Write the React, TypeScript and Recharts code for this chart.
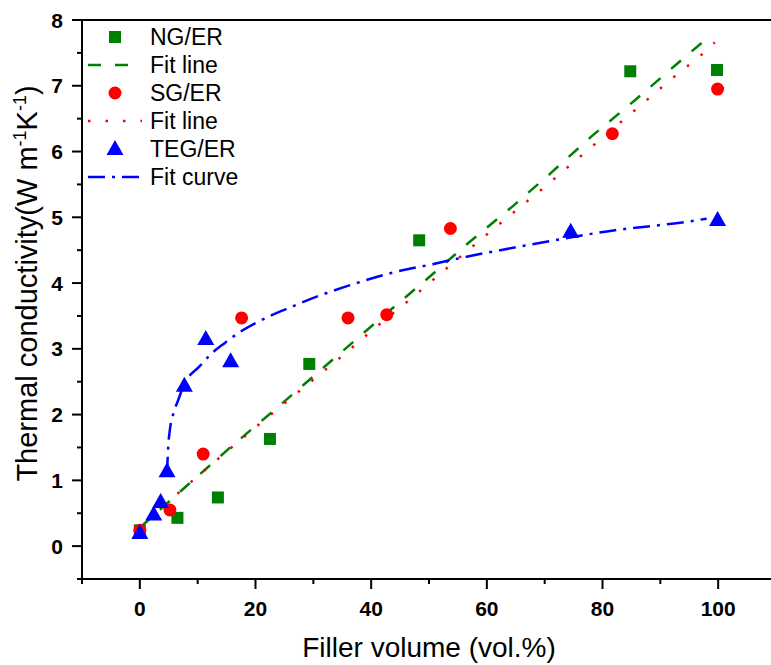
import React from "react";
import { ComposedChart, Scatter, Line, XAxis, YAxis, ReferenceLine } from "recharts";

// measured points
const ngX = [0, 6.5, 13.5, 22.5, 29.3, 48.3, 84.8, 99.8];
const ngY = [0.24, 0.43, 0.74, 1.63, 2.77, 4.65, 7.22, 7.24];

const sgX = [0, 5.2, 10.95, 17.6, 36.0, 42.7, 53.7, 81.7, 99.9];
const sgY = [0.24, 0.55, 1.4, 3.47, 3.47, 3.52, 4.83, 6.27, 6.95];

const tegX = [0, 2.4, 3.6, 4.7, 7.7, 11.4, 15.7, 74.5, 99.9];
const tegY = [0.2, 0.48, 0.67, 1.14, 2.44, 3.15, 2.81, 4.78, 4.96];

// fit lines
const ngFitX = [0, 8.4, 15.9, 23.4, 34.6, 42.1, 49.5, 56.8, 64.5, 70.9, 78.1, 85.6, 93.1, 97.8];
const ngFitY = [0.28, 0.94, 1.52, 2.08, 2.93, 3.5, 4.05, 4.61, 5.17, 5.66, 6.23, 6.78, 7.35, 7.7];

const sgFitX = [0, 6.8, 13.7, 20.6, 27.6, 33.9, 40.7, 47.4, 54.2, 61.1, 69.7, 78.9, 87.9, 92.3, 97.1, 99.4];
const sgFitY = [0.24, 0.82, 1.34, 1.85, 2.36, 2.81, 3.32, 3.8, 4.31, 4.82, 5.44, 6.13, 6.8, 7.13, 7.47, 7.66];

const tegFitX = [4.7, 4.9, 5.2, 5.9, 6.8, 7.5, 10.4, 12.3, 14.7, 17.4, 20.2, 23.0, 26.0, 31.1, 37.5, 43.3, 50.2, 56.5, 62.3, 68.6, 76.1, 81.9, 88.8, 95.2, 98.0];
const tegFitY = [1.1, 1.5, 1.77, 2.04, 2.26, 2.43, 2.74, 2.92, 3.09, 3.26, 3.4, 3.52, 3.63, 3.81, 4.0, 4.15, 4.28, 4.4, 4.5, 4.6, 4.72, 4.8, 4.87, 4.94, 4.98];

const xTicks = [-10, 0, 10, 20, 30, 40, 50, 60, 70, 80, 90, 100, 110];
const yTicks = [-0.5, 0, 0.5, 1, 1.5, 2, 2.5, 3, 3.5, 4, 4.5, 5, 5.5, 6, 6.5, 7, 7.5, 8];

const legendLabels = ["NG/ER", "Fit line", "SG/ER", "Fit line", "TEG/ER", "Fit curve"];

const toPoints = (xs: number[], ys: number[]) => xs.map((x, i) => ({ x, y: ys[i] }));

const GREEN = "#008000";
const RED = "#ff0000";
const BLUE = "#0000ff";
const FONT = "'Liberation Sans', Arial, sans-serif";

const TICK_SIZE = 10;
const TICK_MARGIN_Y = 9;
const TICK_MARGIN_X = 12;

const Square = (p: any) => <rect x={p.cx - 6} y={p.cy - 6} width={12} height={12} fill={GREEN} />;
const Dot = (p: any) => <circle cx={p.cx} cy={p.cy} r={6.5} fill={RED} />;
const Tri = (p: any) => (
  <polygon points={`${p.cx},${p.cy - 9} ${p.cx - 8.5},${p.cy + 6} ${p.cx + 8.5},${p.cy + 6}`} fill={BLUE} />
);

const YTick = (props: any) => {
  const { x, y, payload } = props;
  const major = Number.isInteger(payload.value);
  const ax = x + TICK_MARGIN_Y + TICK_SIZE;
  return (
    <g>
      <line x1={ax} x2={ax - (major ? TICK_SIZE : 5)} y1={y} y2={y} stroke="#000" strokeWidth={2} />
      {major ? (
        <text x={x} y={y} dy="0.36em" textAnchor="end" fontFamily={FONT} fontSize={21} fontWeight="bold" fill="#000">
          {payload.value}
        </text>
      ) : null}
    </g>
  );
};

const XTick = (props: any) => {
  const { x, y, payload } = props;
  const major = payload.value % 20 === 0;
  const ay = y - TICK_MARGIN_X - TICK_SIZE;
  return (
    <g>
      <line x1={x} x2={x} y1={ay} y2={ay + (major ? TICK_SIZE : 5)} stroke="#000" strokeWidth={2} />
      {major ? (
        <text x={x} y={y} dy="0.72em" textAnchor="middle" fontFamily={FONT} fontSize={21} fontWeight="bold" fill="#000">
          {payload.value}
        </text>
      ) : null}
    </g>
  );
};

const YTitle = (props: any) => {
  const vb = props.viewBox;
  const bx = 37;
  const cy = vb.y + vb.height / 2 - 16;
  return (
    <text
      x={bx}
      y={cy}
      transform={`rotate(-90 ${bx} ${cy})`}
      textAnchor="middle"
      fontFamily={FONT}
      fontSize={29}
      fill="#000"
    >
      Thermal conductivity(W m<tspan fontSize={18} dy={-11}>-1</tspan>
      <tspan dy={11}>K</tspan>
      <tspan fontSize={18} dy={-11}>-1</tspan>
      <tspan dy={11}>)</tspan>
    </text>
  );
};

const XTitle = (props: any) => {
  const vb = props.viewBox;
  return (
    <text x={vb.x + vb.width / 2} y={657} textAnchor="middle" fontFamily={FONT} fontSize={28} fill="#000">
      Filler volume (vol.%)
    </text>
  );
};

function LegendBox() {
  const rowY = (i: number) => 37 + i * 28;
  const symX = 115;
  return (
    <svg width={260} height={200} style={{ position: "absolute", left: 0, top: 0 }}>
      <rect x={symX - 6} y={rowY(0) - 6} width={12} height={12} fill={GREEN} />
      <line x1={88} x2={142} y1={rowY(1)} y2={rowY(1)} stroke={GREEN} strokeWidth={2.5} strokeDasharray="13 14" />
      <circle cx={symX} cy={rowY(2)} r={6.5} fill={RED} />
      <line x1={88} x2={142} y1={rowY(3)} y2={rowY(3)} stroke={RED} strokeWidth={2.5} strokeDasharray="2.5 15" />
      <polygon points={`${symX},${rowY(4) - 9} ${symX - 8.5},${rowY(4) + 6} ${symX + 8.5},${rowY(4) + 6}`} fill={BLUE} />
      <line x1={88} x2={142} y1={rowY(5)} y2={rowY(5)} stroke={BLUE} strokeWidth={2.5} strokeDasharray="17 7 3 7" />
      {legendLabels.map((t, i) => (
        <text key={i} x={150} y={rowY(i)} dy="0.36em" fontFamily={FONT} fontSize={23} fill="#000">
          {t}
        </text>
      ))}
    </svg>
  );
}

export default function App() {
  return (
    <div
      style={{
        position: "absolute",
        left: 0,
        top: 0,
        width: 771,
        height: 665,
        overflow: "hidden",
        background: "#fff"
      }}
    >
      <ComposedChart width={800} height={665} margin={{ top: 20, right: 24, bottom: 56, left: 22 }}>
        <XAxis
          dataKey="x"
          type="number"
          domain={[-10, 110]}
          ticks={xTicks}
          interval={0}
          tickSize={TICK_SIZE}
          tickMargin={TICK_MARGIN_X}
          tickLine={false}
          tick={<XTick />}
          axisLine={{ stroke: "#000", strokeWidth: 2 }}
          height={30}
          allowDuplicatedCategory={false}
          label={{ content: <XTitle /> }}
        />
        <YAxis
          dataKey="y"
          type="number"
          domain={[-0.5, 8]}
          ticks={yTicks}
          interval={0}
          tickSize={TICK_SIZE}
          tickMargin={TICK_MARGIN_Y}
          tickLine={false}
          tick={<YTick />}
          axisLine={{ stroke: "#000", strokeWidth: 2 }}
          width={60}
          label={{ content: <YTitle /> }}
        />
        <ReferenceLine y={8} stroke="#000" strokeWidth={2} />
        <ReferenceLine x={110} stroke="#000" strokeWidth={2} />
        <Line
          data={toPoints(ngFitX, ngFitY)}
          dataKey="y"
          type="linear"
          stroke={GREEN}
          strokeWidth={2.5}
          strokeDasharray="13 14"
          dot={false}
          activeDot={false}
          isAnimationActive={false}
        />
        <Line
          data={toPoints(sgFitX, sgFitY)}
          dataKey="y"
          type="linear"
          stroke={RED}
          strokeWidth={2.5}
          strokeDasharray="2.5 15"
          dot={false}
          activeDot={false}
          isAnimationActive={false}
        />
        <Line
          data={toPoints(tegFitX, tegFitY)}
          dataKey="y"
          type="monotone"
          stroke={BLUE}
          strokeWidth={2.5}
          strokeDasharray="17 7 3 7"
          dot={false}
          activeDot={false}
          isAnimationActive={false}
        />
        <Scatter data={toPoints(ngX, ngY)} dataKey="y" shape={<Square />} isAnimationActive={false} />
        <Scatter data={toPoints(sgX, sgY)} dataKey="y" shape={<Dot />} isAnimationActive={false} />
        <Scatter data={toPoints(tegX, tegY)} dataKey="y" shape={<Tri />} isAnimationActive={false} />
      </ComposedChart>
      <LegendBox />
    </div>
  );
}
